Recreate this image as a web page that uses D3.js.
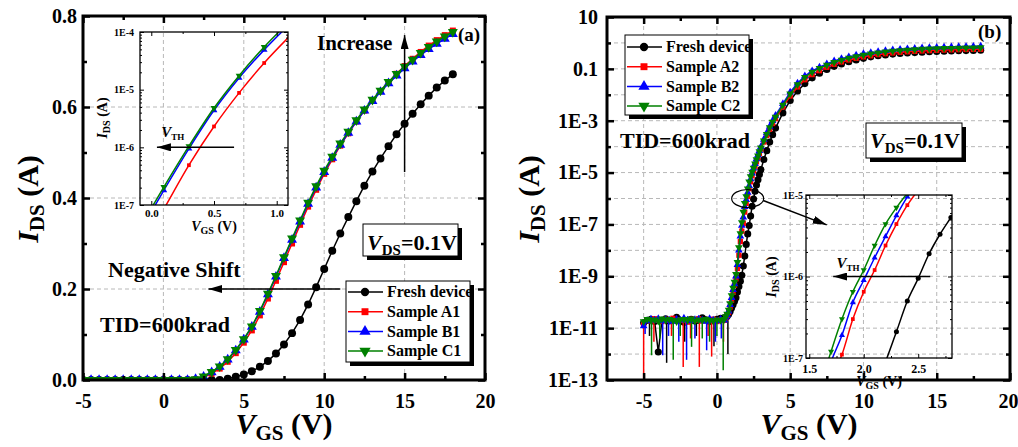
<!DOCTYPE html>
<html>
<head>
<meta charset="utf-8">
<script src="https://cdnjs.cloudflare.com/ajax/libs/d3/7.8.5/d3.min.js"></script>
<style>
  body { margin: 0; background: #fff; }
  svg { display: block; font-family: "Liberation Serif", "Times New Roman", Times, "DejaVu Serif", serif; font-weight: bold; }
  text { white-space: pre; }
</style>
</head>
<body>
<svg id="chart" width="1018" height="447"></svg>
<script>
// ---------- data, panel (a) : linear scale ----------
const vgsA = [-5,-4.5,-4,-3.5,-3,-2.5,-2,-1.5,-1,-0.5,0,0.5,1,1.5,2,2.5,3,3.5,4,4.5,5,5.5,6,6.5,7,7.5,8,8.5,9,9.5,10,10.5,11,11.5,12,12.5,13,13.5,14,14.5,15,15.5,16,16.5,17,17.5,18]
const freshA = [0,0,0,0,0,0,0,0,0,0,0,0,0,0,0,0,0,0,
  0.003,0.007,0.012,0.019,0.029,0.042,0.058,0.078,0.103,0.132,0.166,0.204,0.244,0.284,0.322,0.358,0.393,0.427,0.458,0.487,0.514,0.54,0.563,0.585,0.606,0.625,0.643,0.658,0.672]
const sampleA1 = [0,0,0,0,0,0,0,0,0,0,0,0,0,0,
  0.001,0.006,0.014,0.025,0.04,0.059,0.082,0.109,0.142,0.179,0.218,0.259,0.3,0.341,0.381,0.418,0.453,0.485,0.515,0.542,0.568,0.592,0.614,0.635,0.655,0.673,0.69,0.706,0.721,0.735,0.747,0.758,0.768]
const sampleB1 = [0,0,0,0,0,0,0,0,0,0,0,0,0,0,
  0.002,0.007,0.017,0.029,0.045,0.065,0.089,0.117,0.15,0.188,0.227,0.268,0.308,0.348,0.387,0.423,0.457,0.488,0.517,0.543,0.568,0.592,0.613,0.633,0.652,0.669,0.685,0.7,0.714,0.727,0.739,0.75,0.76]
const sampleC1 = [0,0,0,0,0,0,0,0,0,0,0,0,0,0,
  0.002,0.008,0.018,0.03,0.046,0.066,0.09,0.118,0.152,0.19,0.229,0.27,0.311,0.351,0.39,0.426,0.46,0.491,0.52,0.546,0.571,0.595,0.616,0.636,0.655,0.673,0.689,0.704,0.719,0.732,0.744,0.755,0.765]

// inset of (a), log scale
const insetVgsA = [-0.1,0.1,0.3,0.5,0.7,0.9,1.1]
const insetA1 = [1.5e-8,8.5e-8,4.9e-7,2.3e-6,8.8e-6,2.9e-5,8.3e-5]
const insetB1 = [3.2e-8,1.8e-7,9.5e-7,4.4e-6,1.6e-5,4.9e-5,1.35e-4]
const insetC1 = [3.7e-8,2.05e-7,1.05e-6,4.8e-6,1.75e-5,5.5e-5,1.5e-4]

// ---------- data, panel (b) : log scale ----------
const vgsB = [-5,-4.75,-4.5,-4.25,-4,-3.75,-3.5,-3.25,-3,-2.75,-2.5,-2.25,-2,-1.75,-1.5,-1.25,-1,-0.75,-0.5,-0.25,0,0.25,
  0.5,0.6,0.7,0.8,0.9,1,1.1,1.2,1.3,1.4,1.5,1.6,1.7,1.8,1.9,2,2.1,2.2,2.3,2.4,2.5,2.6,2.7,2.8,2.9,3,
  3.2,3.4,3.6,3.8,4,
  4.5,5,5.5,6,6.5,7,7.5,8,8.5,9,9.5,10,10.5,11,11.5,12,12.5,13,13.5,14,14.5,15,15.5,16,16.5,17,17.5,18]
const freshB = [1.6e-11,2e-11,2.2e-11,1.8e-11,1.2e-12,2e-11,2.3e-11,1.9e-11,2.1e-11,2.6e-11,2e-11,1.7e-11,2e-11,2.2e-11,1.9e-11,2e-11,2.5e-11,2.1e-11,1.8e-11,2e-11,2.2e-11,2.4e-11,
  2.4e-11,2.6e-11,2.9e-11,3.4e-11,4.4e-11,6e-11,8e-11,1.1e-10,1.5e-10,2.5e-10,4e-10,6.5e-10,1.1e-9,2.5e-9,6e-9,1.7e-8,4.3e-8,9e-8,2.1e-7,5e-7,9.5e-7,1.9e-6,3.3e-6,5.3e-6,8.5e-6,1.3e-5,
  3.2e-5,7e-5,1.5e-4,2.9e-4,5.2e-4,
  2e-3,6e-3,1.4e-2,2.7e-2,4.5e-2,6.8e-2,0.095,0.125,0.155,0.19,0.22,0.255,0.29,0.32,0.345,0.37,0.39,0.41,0.425,0.44,0.455,0.47,0.48,0.49,0.5,0.505,0.515,0.52]
const sampleA2 = [1.5e-11,2.1e-11,1.9e-11,2.3e-11,2e-11,1.8e-11,2.2e-11,2e-11,2.4e-11,1.9e-11,2.1e-11,2e-11,1.7e-11,2.2e-11,2e-11,2.3e-11,1.9e-11,2.1e-11,2e-11,2.2e-11,1.8e-11,2.1e-11,
  2e-11,2.5e-11,3e-11,4e-11,6.5e-11,1.2e-10,2.4e-10,4.5e-10,8e-10,2e-9,6.5e-9,2.2e-8,5.5e-8,1.1e-7,3e-7,6.5e-7,1.2e-6,2.4e-6,4.4e-6,7.5e-6,1.15e-5,1.75e-5,2.6e-5,3.8e-5,5.5e-5,8e-5,
  1.5e-4,2.7e-4,4.7e-4,7.8e-4,1.2e-3,
  3.4e-3,9e-3,2e-2,3.8e-2,6e-2,8.5e-2,0.115,0.15,0.185,0.22,0.255,0.29,0.32,0.355,0.385,0.41,0.435,0.455,0.475,0.49,0.505,0.52,0.53,0.54,0.55,0.56,0.565,0.57]
const sampleB2 = [1.2e-11,1.9e-11,2.2e-11,2e-11,2.3e-11,1.9e-11,2.1e-11,2e-11,1.8e-11,2.2e-11,2e-11,2.4e-11,2e-11,1.9e-11,2.1e-11,2.2e-11,2e-11,1.8e-11,2.3e-11,2e-11,1.9e-11,2.2e-11,
  2e-11,2.6e-11,3.2e-11,4.5e-11,8e-11,1.5e-10,3e-10,5e-10,1e-9,2.8e-9,1e-8,3.5e-8,9e-8,1.9e-7,4.8e-7,9e-7,1.7e-6,3.1e-6,5.6e-6,9.5e-6,1.45e-5,2.2e-5,3.3e-5,4.8e-5,7e-5,1e-4,
  1.9e-4,3.4e-4,6e-4,1e-3,1.6e-3,
  4.5e-3,1.25e-2,2.8e-2,5.3e-2,8.3e-2,0.115,0.155,0.2,0.245,0.29,0.335,0.38,0.42,0.46,0.5,0.535,0.565,0.59,0.615,0.635,0.655,0.67,0.685,0.7,0.71,0.72,0.73,0.74]
const sampleC2 = [1.8e-11,2.2e-11,2e-11,2.1e-11,1.9e-11,2.3e-11,2e-11,2.2e-11,2e-11,1.8e-11,2.1e-11,2.2e-11,2e-11,2.3e-11,1.9e-11,2.1e-11,2e-11,2.2e-11,2e-11,1.9e-11,2.1e-11,2e-11,
  2.2e-11,2.8e-11,3.5e-11,5e-11,9e-11,1.8e-10,3.5e-10,6e-10,1.2e-9,3.5e-9,1.3e-8,4.5e-8,1.2e-7,3e-7,6.5e-7,1.2e-6,2.4e-6,4.4e-6,7e-6,1.05e-5,1.5e-5,2.2e-5,3.2e-5,4.5e-5,6.5e-5,9e-5,
  1.7e-4,3e-4,5.5e-4,9e-4,1.4e-3,
  4e-3,1.1e-2,2.5e-2,4.8e-2,7.5e-2,0.105,0.14,0.18,0.22,0.26,0.3,0.34,0.38,0.42,0.455,0.49,0.515,0.54,0.56,0.58,0.595,0.61,0.62,0.63,0.64,0.65,0.655,0.66]

// noise spikes in the off-state floor: [VGS, lowest current]
const noiseTop = 2e-11
const freshSpikes = [[-4.6,5e-12],[-3.43,4.6e-13],[-2.2,3e-12],[-1.4,5e-12],[-0.2,2e-12],[0.75,1e-12]]
const spikesA2 = [[-5,5e-14],[-4.3,3e-12],[-3.1,5e-12],[-2.3,3.2e-13],[-1.8,4e-12],[-1.2,3.2e-13],[-0.6,5e-12],[-0.36,8e-13],[0.45,3e-12]]
const spikesB2 = [[-4.9,6e-12],[-3.7,9e-13],[-3.3,5e-12],[-2.6,3e-12],[-2.07,6e-13],[-1.5,4e-12],[-0.7,1.4e-12],[-0.1,3e-12],[0.3,4e-12]]
const spikesC2 = [[-4.46,9e-13],[-3.9,4e-12],[-2.98,6e-13],[-2.5,5e-12],[-1.73,1.9e-12],[-1,4e-12],[-0.5,3e-12],[0,5e-12],[0.43,2.4e-13]]

const namesA = ["Fresh device", "Sample A1", "Sample B1", "Sample C1"]
const namesB = ["Fresh device", "Sample A2", "Sample B2", "Sample C2"]

// ticks
const xTicks = [-5, 0, 5, 10, 15, 20]
const xLabels = ["-5", "0", "5", "10", "15", "20"]
const xMinor = [-2.5, 2.5, 7.5, 12.5, 17.5]
const yTicksA = [0, 0.2, 0.4, 0.6, 0.8]
const yLabelsA = ["0.0", "0.2", "0.4", "0.6", "0.8"]
const yMinorA = [0.1, 0.3, 0.5, 0.7]
const yTicksB = [10, 0.1, 1e-3, 1e-5, 1e-7, 1e-9, 1e-11, 1e-13]
const yLabelsB = ["10", "0.1", "1E-3", "1E-5", "1E-7", "1E-9", "1E-11", "1E-13"]
const yMinorB = [1, 1e-2, 1e-4, 1e-6, 1e-8, 1e-10, 1e-12]
const gridXA = [0, 5, 10, 15], gridYA = [0.2, 0.4, 0.6]
const gridXB = [-5, 0, 5, 10, 15]
const gridYB = [1, 0.1, 1e-2, 1e-3, 1e-4, 1e-5, 1e-6, 1e-7, 1e-8, 1e-9, 1e-10, 1e-11, 1e-12]
const inXTicksA = [0, 0.5, 1], inXLabelsA = ["0.0", "0.5", "1.0"]
const inYTicksA = [1e-7, 1e-6, 1e-5, 1e-4], inYLabelsA = ["1E-7", "1E-6", "1E-5", "1E-4"]
const inXTicksB = [1.5, 2, 2.5], inXLabelsB = ["1.5", "2.0", "2.5"]
const inYTicksB = [1e-7, 1e-6, 1e-5], inYLabelsB = ["1E-7", "1E-6", "1E-5"]

// ---------- styles ----------
const colors = ["#000000", "#ff0000", "#0000ff", "#008000"]
const shapes = [d3.symbolCircle, d3.symbolSquare, d3.symbolTriangle, d3.symbolTriangle]
const flipped = [false, false, false, true]

const svg = d3.select("#chart")
  .attr("font-family", "'Liberation Serif', 'Times New Roman', Times, 'DejaVu Serif', serif")
const defs = svg.append("defs")

defs.append("marker").attr("id", "arrow")
  .attr("viewBox", "0 0 14 8").attr("refX", 14).attr("refY", 4)
  .attr("markerWidth", 14).attr("markerHeight", 8)
  .attr("markerUnits", "userSpaceOnUse").attr("orient", "auto")
  .append("path").attr("d", "M0,0L14,4L0,8Z").attr("fill", "#000")

function clip(id, x, y) {
  const [xl, xr] = x.range(), [yb, yt] = y.range()
  defs.append("clipPath").attr("id", id).append("rect")
    .attr("x", xl).attr("y", yt).attr("width", xr - xl).attr("height", yb - yt)
}

function grid(g, x, y, xs, ys) {
  const [xl, xr] = x.range(), [yb, yt] = y.range()
  const gg = g.append("g").attr("stroke", "#b8b8b8").attr("stroke-width", 1).attr("stroke-dasharray", "4,3")
  gg.selectAll(".gx").data(xs).join("line")
    .attr("x1", d => x(d)).attr("x2", d => x(d)).attr("y1", yb).attr("y2", yt)
  gg.selectAll(".gy").data(ys).join("line")
    .attr("y1", d => y(d)).attr("y2", d => y(d)).attr("x1", xl).attr("x2", xr)
}

function marker(sel, k, size) {
  sel.attr("d", d3.symbol(shapes[k], size)).attr("fill", colors[k])
}

function series(g, xs, ys, x, y, k, size, lw, curve) {
  const pts = xs.map((v, i) => [v, ys[i]])
  g.append("path").datum(pts)
    .attr("fill", "none").attr("stroke", colors[k]).attr("stroke-width", lw)
    .attr("d", d3.line().x(d => x(d[0])).y(d => y(d[1])).curve(curve || d3.curveLinear))
  g.append("g").selectAll("path").data(pts).join("path")
    .attr("transform", d => `translate(${x(d[0])},${y(d[1])})` + (flipped[k] ? " rotate(180)" : ""))
    .call(marker, k, size)
}

function spikes(g, list, x, y, k) {
  g.append("g").selectAll("line").data(list).join("line")
    .attr("x1", d => x(d[0])).attr("x2", d => x(d[0]))
    .attr("y1", y(noiseTop)).attr("y2", d => y(d[1]))
    .attr("stroke", colors[k]).attr("stroke-width", 1.5)
}

function boxAxes(g, x, y, c) {
  const [xl, xr] = x.range(), [yb, yt] = y.range()
  const put = (axis, tx, ty, fs) => {
    const a = g.append("g").attr("transform", `translate(${tx},${ty})`).call(axis)
    a.select(".domain").remove()
    a.attr("font-family", null).attr("font-size", fs || 10)
    a.selectAll(".tick line").attr("stroke-width", c.tw)
    return a
  }
  const pick = labels => (d, i) => labels[i]
  const tk = (ax, vals, len) => ax.tickValues(vals).tickSizeInner(-len).tickSizeOuter(0)
  const bottom = put(tk(d3.axisBottom(x), c.xt, c.len).tickFormat(pick(c.xl)).tickPadding(c.px), 0, yb, c.fsx)
  put(tk(d3.axisTop(x), c.xt, c.len).tickFormat(""), 0, yt)
  put(tk(d3.axisLeft(y), c.yt, c.len).tickFormat(pick(c.yl)).tickPadding(c.py), xl, 0, c.fsy)
  put(tk(d3.axisRight(y), c.yt, c.len).tickFormat(""), xr, 0)
  if (c.xm) {
    put(tk(d3.axisBottom(x), c.xm, c.lenm).tickFormat(""), 0, yb)
    put(tk(d3.axisTop(x), c.xm, c.lenm).tickFormat(""), 0, yt)
  }
  if (c.ym) {
    put(tk(d3.axisLeft(y), c.ym, c.lenm).tickFormat(""), xl, 0)
    put(tk(d3.axisRight(y), c.ym, c.lenm).tickFormat(""), xr, 0)
  }
  g.append("rect").attr("x", xl).attr("y", yt).attr("width", xr - xl).attr("height", yb - yt)
    .attr("fill", "none").attr("stroke", "#000").attr("stroke-width", c.fw)
  return bottom
}

function rich(g, x, y, parts, anchor) {
  const t = g.append("text").attr("x", x).attr("y", y).attr("text-anchor", anchor || "start")
  parts.forEach(([s, fs, it, dy]) => t.append("tspan")
    .attr("font-size", fs).attr("font-style", it ? "italic" : null).attr("dy", dy || 0).text(s))
  return t
}

function shadowBox(g, x0, y0, w, h) {
  g.append("rect").attr("x", x0 + 4).attr("y", y0 + 4).attr("width", w).attr("height", h).attr("fill", "#000")
  g.append("rect").attr("x", x0).attr("y", y0).attr("width", w).attr("height", h)
    .attr("fill", "#fff").attr("stroke", "#000").attr("stroke-width", 1)
}

function legend(g, x0, y0, w, h, names, first, step) {
  shadowBox(g, x0, y0, w, h)
  const lsize = [55, 48, 55, 55]
  names.forEach((n, i) => {
    const yy = y0 + first + i * step
    g.append("line").attr("x1", x0 + 2).attr("x2", x0 + 37).attr("y1", yy).attr("y2", yy)
      .attr("stroke", colors[i]).attr("stroke-width", 1.5)
    g.append("path").attr("transform", `translate(${x0 + 19},${yy})` + (flipped[i] ? " rotate(180)" : ""))
      .call(marker, i, lsize[i])
    g.append("text").attr("x", x0 + 41).attr("y", yy).attr("dy", "0.33em").attr("font-size", 16).text(n)
  })
}

function arrow(g, x1, y1, x2, y2) {
  g.append("line").attr("x1", x1).attr("y1", y1).attr("x2", x2).attr("y2", y2)
    .attr("stroke", "#000").attr("stroke-width", 1.5).attr("marker-end", "url(#arrow)")
}

const IDS = [["I", 30, true], ["DS", 21, false, 6], [" (A)", 30, false, -6]]
const VGS = [["V", 30, true], ["GS", 21, false, 6], [" (V)", 30, false, -6]]
const IDSs = [["I", 14, true], ["DS", 10, false, 3], [" (A)", 14, false, -3]]
const VGSs = [["V", 14, true], ["GS", 10, false, 3], [" (V)", 14, false, -3]]
const VDS = [["V", 22, true], ["DS", 15, false, 5], ["=0.1V", 22, false, -5]]
const VTH = [["V", 15, true], ["TH", 9, false, 3]]

// ================= panel (a) =================
const xA = d3.scaleLinear().domain([-5, 20]).range([83, 485])
const yA = d3.scaleLinear().domain([0, 0.8]).range([380, 16])
const ixA = d3.scaleLinear().domain([-0.09, 1.09]).range([140, 288])
const iyA = d3.scaleLog().domain([1e-7, 1e-4]).range([205, 32])
clip("clipA", xA, yA)
clip("clipIA", ixA, iyA)

const gA = svg.append("g")
grid(gA, xA, yA, gridXA, gridYA)

const plotA = gA.append("g").attr("clip-path", "url(#clipA)")
const sizeA = [50, 36, 43, 43]
;[freshA, sampleA1, sampleB1, sampleC1].forEach((s, k) => series(plotA, vgsA, s, xA, yA, k, sizeA[k], 1.5))

// inset (a)
const inA = gA.append("g")
const inPlotA = inA.append("g").attr("clip-path", "url(#clipIA)")
;[[insetA1, 1], [insetB1, 2], [insetC1, 3]].forEach(([s, k]) =>
  series(inPlotA, insetVgsA, s, ixA, iyA, k, k === 1 ? 14 : 20, 1.5, d3.curveMonotoneX))
const logMinor = sc => sc.ticks().filter(v => Math.abs(Math.log10(v) - Math.round(Math.log10(v))) > 1e-6)
boxAxes(inA, ixA, iyA, { xt: inXTicksA, xl: inXLabelsA, yt: inYTicksA, yl: inYLabelsA,
  xm: [0.25, 0.75], ym: logMinor(iyA), len: 4, lenm: 2, tw: 1, fw: 1.3, px: 4, py: 6, fsx: 11, fsy: 10 })
arrow(inA, ixA(0.66), iyA(1e-6), ixA(0.045), iyA(1e-6))
rich(inA, ixA(0.08), iyA(1e-6) - 10, VTH)
rich(inA, 0, 0, IDSs, "middle").attr("transform", "translate(107,118) rotate(-90)")
rich(inA, 214, 231, VGSs, "middle")

// annotations (a)
legend(gA, 346, 281, 124, 81, namesA, 11, 19.7)
shadowBox(gA, 363, 224, 95, 32)
rich(gA, 367, 250, VDS)
gA.append("text").attr("x", 317).attr("y", 50).attr("font-size", 21).text("Increase")
arrow(gA, xA(15), yA(0.457), xA(15), yA(0.758))
gA.append("text").attr("x", 108).attr("y", 277).attr("font-size", 22).text("Negative Shift")
arrow(gA, xA(11), yA(0.2), xA(2.8), yA(0.2))
gA.append("text").attr("x", 100).attr("y", 332).attr("font-size", 22).text("TID=600krad")
gA.append("text").attr("x", 458).attr("y", 41).attr("font-size", 19).text("(a)")

boxAxes(gA, xA, yA, { xt: xTicks, xl: xLabels, yt: yTicksA, yl: yLabelsA, xm: xMinor, ym: yMinorA,
  len: 7, lenm: 4, tw: 2.5, fw: 3, px: 14, py: 6, fsx: 20, fsy: 20 })
rich(gA, 0, 0, IDS, "middle").attr("transform", "translate(38,199) rotate(-90)")
rich(gA, 284, 434, VGS, "middle")

// ================= panel (b) =================
const xB = d3.scaleLinear().domain([-7.5, 20]).range([607, 1010])
const yB = d3.scaleLog().domain([1e-13, 10]).range([380, 17])
const ixB = d3.scaleLinear().domain([1.47, 2.81]).range([806, 952])
const iyB = d3.scaleLog().domain([1e-7, 1e-5]).range([358, 195])
clip("clipB", xB, yB)
clip("clipIB", ixB, iyB)

const gB = svg.append("g")
grid(gB, xB, yB, gridXB, gridYB)

const plotB = gB.append("g").attr("clip-path", "url(#clipB)")
const sizeB = [40, 28, 26, 26]
const dataB = [freshB, sampleA2, sampleB2, sampleC2]
const spikeB = [freshSpikes, spikesA2, spikesB2, spikesC2]
dataB.forEach((s, k) => {
  spikes(plotB, spikeB[k], xB, yB, k)
  series(plotB, vgsB, s, xB, yB, k, sizeB[k], 1.5)
})

legend(gB, 625, 35, 124, 80, namesB, 12, 19.7)
gB.append("text").attr("x", 620).attr("y", 148).attr("font-size", 22).text("TID=600krad")
shadowBox(gB, 866, 123, 96, 35)
rich(gB, 870, 148, VDS)
gB.append("text").attr("x", 978).attr("y", 38).attr("font-size", 19).text("(b)")

// ellipse and pointer to the inset
gB.append("ellipse").attr("cx", xB(2.1)).attr("cy", yB(1e-6)).attr("rx", 16).attr("ry", 9)
  .attr("fill", "none").attr("stroke", "#000").attr("stroke-width", 1.2)
arrow(gB, xB(2.1) + 15.5, yB(1e-6) + 2, ixB(1.66), iyB(4.3e-6))

// inset (b), same measurements zoomed in
const inB = gB.append("g")
const inPlotB = inB.append("g").attr("clip-path", "url(#clipIB)")
const inSizeB = [20, 14, 16, 16]
dataB.forEach((s, k) => {
  const keep = vgsB.map((v, i) => i).filter(i => vgsB[i] >= 1.3 && vgsB[i] <= 3.0)
  series(inPlotB, keep.map(i => vgsB[i]), keep.map(i => s[i]), ixB, iyB, k, inSizeB[k], 1.5, d3.curveMonotoneX)
})
boxAxes(inB, ixB, iyB, { xt: inXTicksB, xl: inXLabelsB, yt: inYTicksB, yl: inYLabelsB,
  xm: [1.75, 2.25, 2.75], ym: logMinor(iyB), len: 4, lenm: 2, tw: 1, fw: 1.3, px: 6, py: 3, fsx: 12, fsy: 10 })
arrow(inB, ixB(2.61), iyB(1e-6), ixB(1.72), iyB(1e-6))
rich(inB, ixB(1.75), iyB(1e-6) - 9, VTH)
rich(inB, 0, 0, IDSs, "middle").attr("transform", "translate(776,277) rotate(-90)")
rich(inB, 879, 386, VGSs, "middle")

const botB = boxAxes(gB, xB, yB, { xt: xTicks, xl: xLabels, yt: yTicksB, yl: yLabelsB, xm: xMinor, ym: yMinorB,
  len: 7, lenm: 4, tw: 2.5, fw: 3, px: 14, py: 9, fsx: 20, fsy: 20 })
// keep the last label inside the picture
botB.selectAll(".tick text").filter(d => d === 20).attr("text-anchor", "end").attr("dx", 8)
rich(gB, 0, 0, IDS, "middle").attr("transform", "translate(539,199) rotate(-90)")
rich(gB, 809, 434, VGS, "middle")
</script>
</body>
</html>
